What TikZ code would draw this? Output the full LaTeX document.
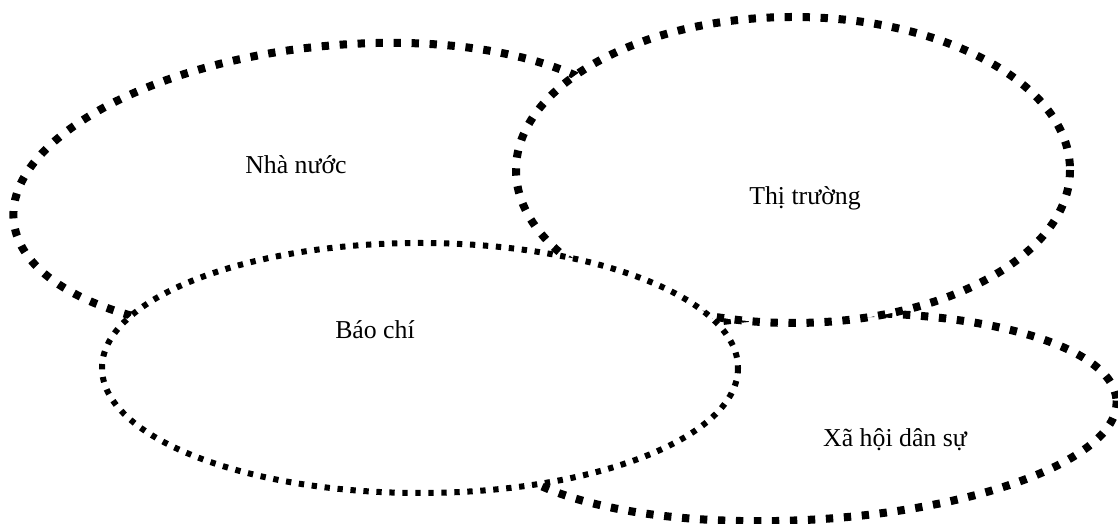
\documentclass[tikz,border=0pt]{standalone}
\usepackage{fontspec}
\setmainfont{Liberation Serif}
\usetikzlibrary{positioning}
\tikzset{
  bigdots/.style  ={line width=1.2mm,dash pattern=on 1.1mm off 1.6mm,fill=white},
  smalldots/.style={line width=0.9mm,dash pattern=on 0.8mm off 1.15mm,fill=white},
  lbl/.style      ={font=\fontsize{11}{13}\selectfont,inner sep=1pt},
}

\begin{document}
\begin{tikzpicture}[x=0.15mm,y=-0.15mm]
  \useasboundingbox (0,0) rectangle (1118,524);
  % the four fields, back to front
  \draw[bigdots,rotate around={6:(332,188)}]
        (332,188) ellipse [x radius=320,y radius=142];
  \draw[bigdots,rotate around={3:(803,417)}]
        (803,417) ellipse [x radius=314,y radius=103];
  \draw[bigdots]   (793,170) ellipse [x radius=277,y radius=153];
  \draw[smalldots] (420,368) ellipse [x radius=318,y radius=125];
  % labels
  \node[lbl] (nhanuoc)  at (296,165) {Nhà nước};
  \node[lbl] (thitruong) at (805,198) {Thị trường};
  \node[lbl] (baochi)   at (375,330) {Báo chí};
  \node[lbl] (xahoi)    at (895,440) {Xã hội dân sự};
\end{tikzpicture}
\end{document}
